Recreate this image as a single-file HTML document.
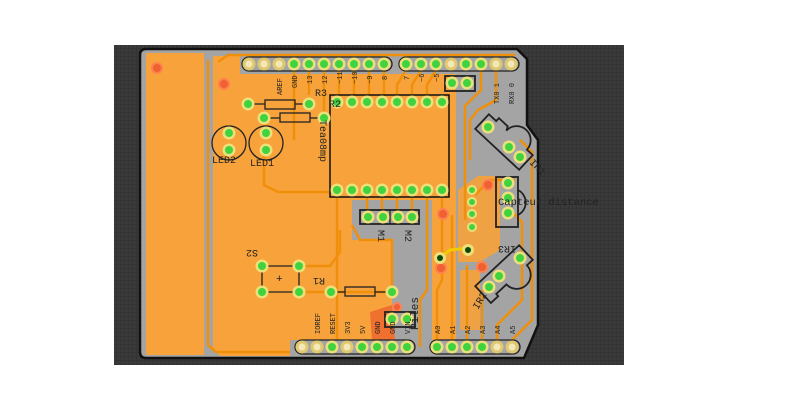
<!DOCTYPE html>
<html><head><meta charset="utf-8"><style>
html,body{margin:0;padding:0;background:#fff;width:800px;height:417px;overflow:hidden}
svg{display:block}
text{font-family:"Liberation Mono",monospace}
</style></head><body>
<svg width="800" height="417" viewBox="0 0 800 417" xmlns="http://www.w3.org/2000/svg">
<defs>
<pattern id="grid" width="4" height="4" patternUnits="userSpaceOnUse">
<rect width="4" height="4" fill="#3a3a3a"/><rect width="4" height="1" fill="#333"/><rect width="1" height="4" fill="#333"/>
</pattern>
</defs>
<rect x="114" y="45" width="510" height="320" fill="url(#grid)"/>
<path d="M146,49 L517,49 L527,59 L527,125 L538,140 L538,325 L524,358 L146,358 Q140,358 140,352 L140,55 Q140,49 146,49 Z" fill="#a4a4a4" stroke="#111" stroke-width="2.5"/>
<rect x="146" y="53" width="58" height="302" fill="#f7a23a" rx="2"/>
<path d="M213,56 L240,56 L240,74 L456,74 L456,200 L352,200 L352,240 L392,240 L392,305 L380,315 L380,340 L290,340 L290,356 L220,356 L213,348 Z" fill="#f7a23a"/>
<path d="M432,200 L456,200 L456,340 L432,340 Z" fill="#f7a23a"/>
<path d="M458,190 L478,176 L500,176 L500,250 L480,262 L458,262 Z" fill="#f7a23a" opacity="0.9"/>
<path d="M460,270 L480,270 L480,330 L460,330 Z" fill="#f7a23a" opacity="0.9"/>
<path d="M370,312 L392,305 L395,340 L372,340 Z" fill="#f07030"/>
<g stroke="#f0900a" stroke-width="2.5" fill="none">
<path d="M208,60 L208,345 L216,352 L290,352"/>
<path d="M218,62 L228,55 L515,55"/>
<path d="M294,70 L294,140"/>
<path d="M309,70 L309,95"/>
<path d="M324,70 L324,120"/>
<path d="M339,70 L339,96"/><path d="M354,70 L354,96"/><path d="M369,70 L369,96"/><path d="M384,70 L384,96"/>
<path d="M406,70 L397,85 L397,96"/><path d="M421,70 L412,85 L412,96"/><path d="M436,70 L427,85 L427,96"/>
<path d="M481,70 L481,90 L465,106 L465,220"/>
<path d="M496,70 L496,100 L478,110 L470,120 L470,160"/>
<path d="M264,150 L264,185 L278,192 L330,192"/>
<path d="M337,197 L337,355"/><path d="M367,197 L367,214"/><path d="M382,197 L382,214"/><path d="M397,197 L397,214"/><path d="M412,197 L412,214"/>
<path d="M442,197 L442,280 L437,290 L437,347"/>
<path d="M427,197 L427,290 L420,300 L420,347"/>
<path d="M299,266 L330,266 L340,252 L340,230"/>
<path d="M299,292 L392,292"/>
<path d="M392,292 L392,240 L360,240 L352,225"/>
<path d="M452,215 L452,347"/><path d="M467,265 L467,347"/><path d="M482,290 L482,347"/>
<path d="M520,140 L532,152 L532,320 L512,340 L512,347"/>
<path d="M510,210 L522,222 L522,300 L497,325 L497,347"/>
<path d="M475,195 L490,180 L515,180"/>
</g>
<path d="M440,258 L450,250 L470,248" stroke="#f2cc00" stroke-width="3" fill="none"/>
<g fill="#f06030" stroke="#ff8050" stroke-width="2">
<circle cx="157" cy="68" r="5"/><circle cx="224" cy="84" r="5"/><circle cx="488" cy="185" r="5"/><circle cx="443" cy="214" r="5"/><circle cx="441" cy="268" r="5"/><circle cx="482" cy="267" r="5"/><circle cx="397" cy="307" r="4"/>
</g>
<rect x="330" y="95" width="119" height="102" fill="none" stroke="#111" stroke-width="1.5"/>
<g fill="none" stroke="#222" stroke-width="1.3">
<rect x="265" y="100" width="30" height="9"/><line x1="248" y1="104" x2="265" y2="104"/><line x1="295" y1="104" x2="309" y2="104"/>
<rect x="280" y="113" width="30" height="9"/><line x1="264" y1="118" x2="280" y2="118"/><line x1="310" y1="118" x2="324" y2="118"/>
<rect x="345" y="287" width="30" height="9"/><line x1="331" y1="292" x2="345" y2="292"/><line x1="375" y1="292" x2="392" y2="292"/>
<circle cx="229" cy="143" r="17"/><circle cx="266" cy="143" r="17"/>
<rect x="360" y="210" width="59" height="14" stroke-width="1.8"/><line x1="390" y1="210" x2="390" y2="224"/>
<rect x="445" y="76" width="30" height="15" stroke-width="1.8"/>
<rect x="385" y="312" width="30" height="15" stroke-width="1.8"/>
<rect x="496" y="177" width="22" height="50" stroke-width="1.8"/>
<path d="M518,190 A14,14 0 0 1 518,215" stroke-width="1.8"/>
<g transform="translate(504,142) rotate(43)" stroke-width="1.8">
<path d="M-30,-10 L-20,-10 L-20,-14 L-8,-14 L-6,-10 A14,14 0 0 1 22,-10 L30,-10 L30,10 L-30,10 Z"/>
</g>
<g transform="translate(504,273) rotate(-43)" stroke-width="1.8">
<path d="M-30,-10 L30,-10 L30,10 L22,10 A14,14 0 0 1 -6,10 L-20,10 L-20,13 L-30,13 Z"/>
</g>
<line x1="268" y1="266" x2="293" y2="266"/><line x1="268" y1="292" x2="293" y2="292"/><line x1="262" y1="272" x2="262" y2="286"/><line x1="299" y1="272" x2="299" y2="286"/>
</g>
<g fill="#a4a4a4" stroke="#222" stroke-width="1.3">
<rect x="242" y="57" width="150" height="14" rx="7"/><rect x="399" y="57" width="120" height="14" rx="7"/>
<rect x="295" y="340" width="120" height="14" rx="7"/><rect x="430" y="340" width="90" height="14" rx="7"/>
</g>
<g fill="#ece07a">
<circle cx="294" cy="64" r="6.5"/><circle cx="309" cy="64" r="6.5"/><circle cx="324" cy="64" r="6.5"/><circle cx="339" cy="64" r="6.5"/><circle cx="354" cy="64" r="6.5"/><circle cx="369" cy="64" r="6.5"/><circle cx="384" cy="64" r="6.5"/>
<circle cx="406" cy="64" r="6.5"/><circle cx="421" cy="64" r="6.5"/><circle cx="436" cy="64" r="6.5"/><circle cx="466" cy="64" r="6.5"/><circle cx="481" cy="64" r="6.5"/>
<circle cx="332" cy="347" r="6.5"/><circle cx="362" cy="347" r="6.5"/><circle cx="377" cy="347" r="6.5"/><circle cx="392" cy="347" r="6.5"/><circle cx="407" cy="347" r="6.5"/>
<circle cx="437" cy="347" r="6.5"/><circle cx="452" cy="347" r="6.5"/><circle cx="467" cy="347" r="6.5"/><circle cx="482" cy="347" r="6.5"/>
<circle cx="337" cy="102" r="6.5"/><circle cx="352" cy="102" r="6.5"/><circle cx="367" cy="102" r="6.5"/><circle cx="382" cy="102" r="6.5"/><circle cx="397" cy="102" r="6.5"/><circle cx="412" cy="102" r="6.5"/><circle cx="427" cy="102" r="6.5"/><circle cx="442" cy="102" r="6.5"/>
<circle cx="337" cy="190" r="6.5"/><circle cx="352" cy="190" r="6.5"/><circle cx="367" cy="190" r="6.5"/><circle cx="382" cy="190" r="6.5"/><circle cx="397" cy="190" r="6.5"/><circle cx="412" cy="190" r="6.5"/><circle cx="427" cy="190" r="6.5"/><circle cx="442" cy="190" r="6.5"/>
<circle cx="368" cy="217" r="6.5"/><circle cx="383" cy="217" r="6.5"/><circle cx="398" cy="217" r="6.5"/><circle cx="412" cy="217" r="6.5"/>
<circle cx="452" cy="83" r="6.5"/><circle cx="467" cy="83" r="6.5"/><circle cx="392" cy="319" r="6.5"/><circle cx="407" cy="319" r="6.5"/>
<circle cx="248" cy="104" r="6.5"/><circle cx="309" cy="104" r="6.5"/><circle cx="264" cy="118" r="6.5"/><circle cx="324" cy="118" r="6.5"/>
<circle cx="229" cy="133" r="6.5"/><circle cx="229" cy="150" r="6.5"/><circle cx="266" cy="133" r="6.5"/><circle cx="266" cy="150" r="6.5"/>
<circle cx="262" cy="266" r="6.5"/><circle cx="299" cy="266" r="6.5"/><circle cx="262" cy="292" r="6.5"/><circle cx="299" cy="292" r="6.5"/><circle cx="331" cy="292" r="6.5"/><circle cx="392" cy="292" r="6.5"/>
<circle cx="488" cy="127" r="6.5"/><circle cx="509" cy="147" r="6.5"/><circle cx="520" cy="157" r="6.5"/>
<circle cx="508" cy="183" r="6.5"/><circle cx="508" cy="198" r="6.5"/><circle cx="508" cy="213" r="6.5"/>
<circle cx="520" cy="258" r="6.5"/><circle cx="499" cy="276" r="6.5"/><circle cx="489" cy="287" r="6.5"/>
<circle cx="472" cy="190" r="5"/><circle cx="472" cy="202" r="5"/><circle cx="472" cy="214" r="5"/><circle cx="472" cy="227" r="5"/>
<circle cx="440" cy="258" r="6"/><circle cx="468" cy="250" r="6"/>
</g>
<g fill="#3fd43f">
<circle cx="294" cy="64" r="4"/><circle cx="309" cy="64" r="4"/><circle cx="324" cy="64" r="4"/><circle cx="339" cy="64" r="4"/><circle cx="354" cy="64" r="4"/><circle cx="369" cy="64" r="4"/><circle cx="384" cy="64" r="4"/>
<circle cx="406" cy="64" r="4"/><circle cx="421" cy="64" r="4"/><circle cx="436" cy="64" r="4"/><circle cx="466" cy="64" r="4"/><circle cx="481" cy="64" r="4"/>
<circle cx="332" cy="347" r="4"/><circle cx="362" cy="347" r="4"/><circle cx="377" cy="347" r="4"/><circle cx="392" cy="347" r="4"/><circle cx="407" cy="347" r="4"/>
<circle cx="437" cy="347" r="4"/><circle cx="452" cy="347" r="4"/><circle cx="467" cy="347" r="4"/><circle cx="482" cy="347" r="4"/>
<circle cx="337" cy="102" r="4"/><circle cx="352" cy="102" r="4"/><circle cx="367" cy="102" r="4"/><circle cx="382" cy="102" r="4"/><circle cx="397" cy="102" r="4"/><circle cx="412" cy="102" r="4"/><circle cx="427" cy="102" r="4"/><circle cx="442" cy="102" r="4"/>
<circle cx="337" cy="190" r="4"/><circle cx="352" cy="190" r="4"/><circle cx="367" cy="190" r="4"/><circle cx="382" cy="190" r="4"/><circle cx="397" cy="190" r="4"/><circle cx="412" cy="190" r="4"/><circle cx="427" cy="190" r="4"/><circle cx="442" cy="190" r="4"/>
<circle cx="368" cy="217" r="4"/><circle cx="383" cy="217" r="4"/><circle cx="398" cy="217" r="4"/><circle cx="412" cy="217" r="4"/>
<circle cx="452" cy="83" r="4"/><circle cx="467" cy="83" r="4"/><circle cx="392" cy="319" r="4"/><circle cx="407" cy="319" r="4"/>
<circle cx="248" cy="104" r="4"/><circle cx="309" cy="104" r="4"/><circle cx="264" cy="118" r="4"/><circle cx="324" cy="118" r="4"/>
<circle cx="229" cy="133" r="4"/><circle cx="229" cy="150" r="4"/><circle cx="266" cy="133" r="4"/><circle cx="266" cy="150" r="4"/>
<circle cx="262" cy="266" r="4"/><circle cx="299" cy="266" r="4"/><circle cx="262" cy="292" r="4"/><circle cx="299" cy="292" r="4"/><circle cx="331" cy="292" r="4"/><circle cx="392" cy="292" r="4"/>
<circle cx="488" cy="127" r="4"/><circle cx="509" cy="147" r="4"/><circle cx="520" cy="157" r="4"/>
<circle cx="508" cy="183" r="4"/><circle cx="508" cy="198" r="4"/><circle cx="508" cy="213" r="4"/>
<circle cx="520" cy="258" r="4"/><circle cx="499" cy="276" r="4"/><circle cx="489" cy="287" r="4"/>
<circle cx="472" cy="190" r="3"/><circle cx="472" cy="202" r="3"/><circle cx="472" cy="214" r="3"/><circle cx="472" cy="227" r="3"/>
</g>
<g fill="#0a4a0a"><circle cx="440" cy="258" r="3"/><circle cx="468" cy="250" r="3"/></g>
<g fill="#f3e9b8" stroke="#e0c870" stroke-width="3">
<circle cx="249" cy="64" r="5"/><circle cx="264" cy="64" r="5"/><circle cx="279" cy="64" r="5"/>
<circle cx="451" cy="64" r="5"/><circle cx="496" cy="64" r="5"/><circle cx="511" cy="64" r="5"/>
<circle cx="302" cy="347" r="5"/><circle cx="317" cy="347" r="5"/><circle cx="347" cy="347" r="5"/><circle cx="497" cy="347" r="5"/><circle cx="512" cy="347" r="5"/>
</g>
<g fill="#222" font-size="7">
<text transform="translate(282,95) rotate(-90)">AREF</text>
<text transform="translate(297,88) rotate(-90)">GND</text>
<text transform="translate(312,84) rotate(-90)">13</text>
<text transform="translate(327,84) rotate(-90)">12</text>
<text transform="translate(342,84) rotate(-90)">~11</text>
<text transform="translate(357,84) rotate(-90)">~10</text>
<text transform="translate(372,84) rotate(-90)">~9</text>
<text transform="translate(387,80) rotate(-90)">8</text>
<text transform="translate(409,80) rotate(-90)">7</text>
<text transform="translate(424,82) rotate(-90)">~6</text>
<text transform="translate(439,82) rotate(-90)">~5</text>
<text transform="translate(499,104) rotate(-90)">TX0 1</text>
<text transform="translate(514,104) rotate(-90)">RX0 0</text>
<text transform="translate(320,334) rotate(-90)">IOREF</text>
<text transform="translate(335,334) rotate(-90)">RESET</text>
<text transform="translate(350,334) rotate(-90)">3V3</text>
<text transform="translate(365,334) rotate(-90)">5V</text>
<text transform="translate(380,334) rotate(-90)">GND</text>
<text transform="translate(395,334) rotate(-90)">GND</text>
<text transform="translate(410,334) rotate(-90)">VIN</text>
<text transform="translate(440,334) rotate(-90)">A0</text>
<text transform="translate(455,334) rotate(-90)">A1</text>
<text transform="translate(470,334) rotate(-90)">A2</text>
<text transform="translate(485,334) rotate(-90)">A3</text>
<text transform="translate(500,334) rotate(-90)">A4</text>
<text transform="translate(515,334) rotate(-90)">A5</text>
</g>
<g fill="#222" font-size="10">
<text x="212" y="163">LED2</text>
<text x="250" y="166">LED1</text>
<text x="315" y="96">R3</text>
<text x="329" y="107">R2</text>
<text transform="translate(320,120) rotate(90)">Tea08mp</text>
<text transform="translate(378,230) rotate(90)">M1</text>
<text transform="translate(405,230) rotate(90)">M2</text>
<text transform="translate(258,250) rotate(180)">S2</text>
<text transform="translate(325,278) rotate(180)">R1</text>
<text x="276" y="282" font-size="11">+</text>
<text transform="translate(418,330) rotate(-90)" font-size="11">Piles</text>
<text x="498" y="205" font-size="10.5">Capteur distance</text>
<text transform="translate(516,246) rotate(180)">IR3</text>
<text transform="translate(529,163) rotate(45)">IR1</text>
<text transform="translate(478,310) rotate(-60)">IR2</text>
</g>
</svg>
</body></html>
